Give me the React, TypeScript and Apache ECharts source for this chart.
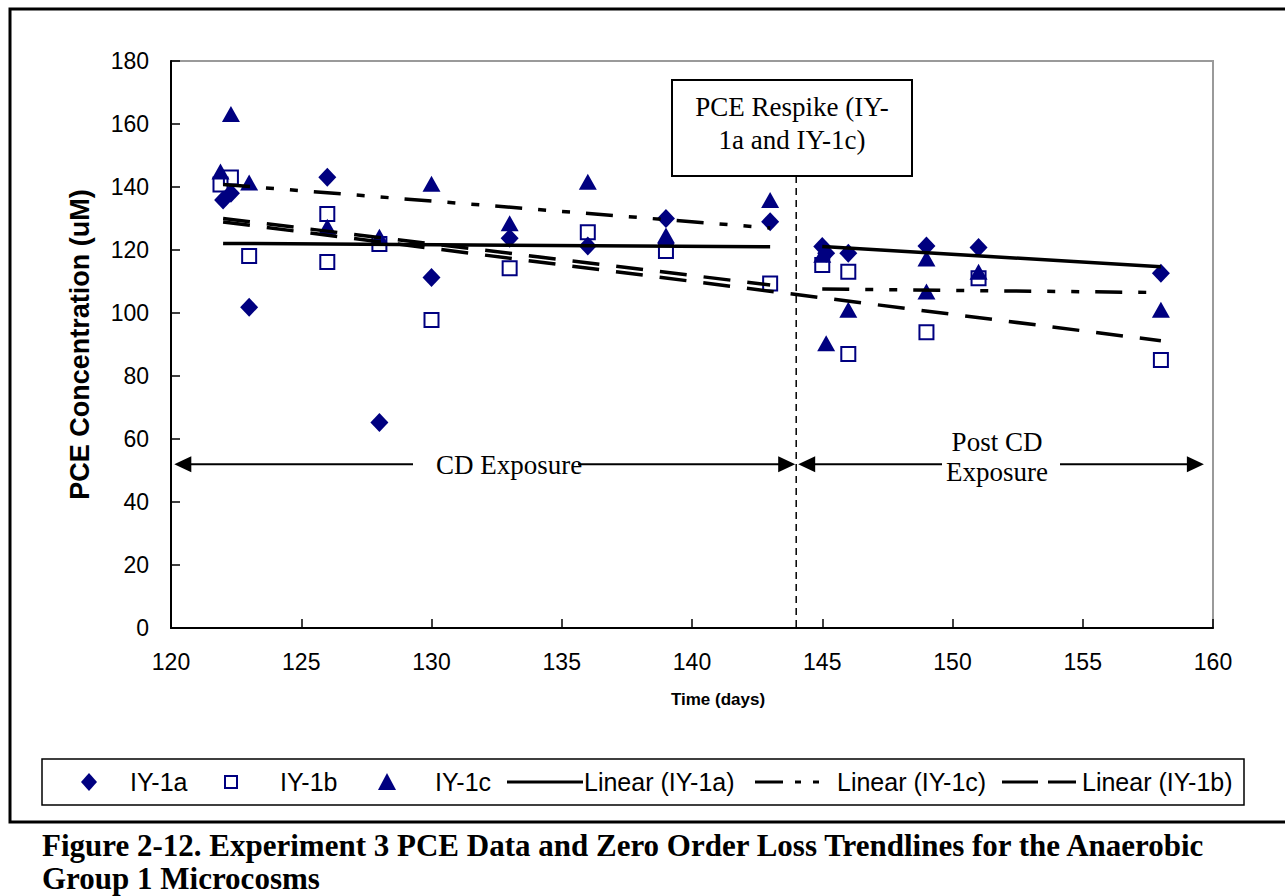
import React, { useEffect, useRef } from "react";
import * as echarts from "echarts";

// ---- Data ----
const iy1a: [number, number][] = [
  [122, 135.9], [122.3, 138], [123, 101.8], [126, 143.1], [128, 65.2], [130, 111.3],
  [133, 123.7], [136, 121.3], [139, 130], [143, 129],
  [145, 121.1], [145.15, 119], [146, 119], [149, 121.3], [151, 120.8], [158, 112.6],
];
const iy1b: [number, number][] = [
  [121.9, 140.8], [122.3, 143], [123, 118.1], [126, 131.4], [126, 116.2], [128, 121.9],
  [130, 97.8], [133, 114.2], [136, 125.6], [139, 119.7], [143, 109.4],
  [145, 115.2], [146, 113.1], [146, 87], [149, 93.9], [151, 111], [158, 85.1],
];
const iy1c: [number, number][] = [
  [121.9, 144.9], [122.3, 163.2], [123, 141.4], [126, 127.4], [128, 124.2], [130, 141],
  [133, 128.5], [136, 141.7], [139, 124.6], [143, 135.9],
  [145, 118.5], [145.15, 90.4], [146, 101], [149, 117.3], [149, 106.8], [151, 113.1], [158, 101],
];

// Trendline endpoints (as drawn in the reference)
const trendA_cd: [number, number][] = [[122, 122.1], [143, 121.0]];
const trendA_post: [number, number][] = [[145, 121.1], [158, 114.7]];
const trendC_cd: [number, number][] = [[122, 140.8], [143, 127.0]];
const trendC_post: [number, number][] = [[145, 107.6], [158, 106.5]];
const trendB_cd: [number, number][] = [[122, 130.0], [143, 108.9]];
const trendB_all: [number, number][] = [[122, 128.9], [158, 91.2]];

const X_MIN = 120, X_MAX = 160, X_STEP = 5;
const Y_MIN = 0, Y_MAX = 180, Y_STEP = 20;
const BOUNDARY_DAY = 144;
const ARROW_LEVEL = 52;
const ARROW_LEFT_DAY = 120.05;
const ARROW_RIGHT_DAY = 159.65;

const legendNames = ["IY-1a", "IY-1b", "IY-1c", "Linear (IY-1a)", "Linear (IY-1c)", "Linear (IY-1b)"];
const captionLines = [
  "Figure 2-12. Experiment 3 PCE Data and Zero Order Loss Trendlines for the Anaerobic",
  "Group 1 Microcosms",
];

const NAVY = "#000080";
const SANS = "'Liberation Sans', Arial, sans-serif";
const SERIF = "'Liberation Serif', 'Times New Roman', serif";

const DASH_C = [27, 16, 8, 16, 8, 16];
const DASH_B = [27, 17];

function trend(name: string, data: [number, number][], type: any) {
  return {
    name,
    type: "line",
    data,
    symbol: "none",
    showSymbol: false,
    silent: true,
    z: 5,
    lineStyle: { color: "#000", width: 3.5, type },
  };
}

export default function App() {
  const ref = useRef<HTMLDivElement>(null);
  useEffect(() => {
    if (!ref.current) return;
    const chart = echarts.init(ref.current, null, { renderer: "svg" });
    chart.setOption({
      animation: false,
      grid: {
        left: 171, top: 61, right: 72, bottom: 268,
        show: true, borderColor: "#9a9a9a", borderWidth: 2, backgroundColor: "transparent",
      },
      xAxis: {
        type: "value", min: X_MIN, max: X_MAX, interval: X_STEP,
        name: "Time (days)", nameLocation: "middle", nameGap: 63,
        nameTextStyle: { fontFamily: SANS, fontSize: 17, fontWeight: "bold", color: "#000", padding: [0, 0, 0, 52] },
        axisLine: { lineStyle: { color: "#000", width: 2 } },
        axisTick: { inside: true, length: 9, lineStyle: { color: "#000", width: 1.5 } },
        axisLabel: { fontFamily: SANS, fontSize: 23, color: "#000", margin: 22 },
        splitLine: { show: false },
      },
      yAxis: {
        type: "value", min: Y_MIN, max: Y_MAX, interval: Y_STEP,
        name: "PCE Concentration (uM)", nameLocation: "middle", nameGap: 78, nameRotate: 90,
        nameTextStyle: { fontFamily: SANS, fontSize: 27, fontWeight: "bold", color: "#000" },
        axisLine: { lineStyle: { color: "#000", width: 2 } },
        axisTick: { inside: true, length: 9, lineStyle: { color: "#000", width: 1.5 } },
        axisLabel: { fontFamily: SANS, fontSize: 23, color: "#000", margin: 22 },
        splitLine: { show: false },
      },
      series: [
        { name: legendNames[0], type: "scatter", data: iy1a, symbol: "diamond", symbolSize: [18, 19], itemStyle: { color: NAVY, opacity: 1 }, z: 3 },
        { name: legendNames[1], type: "scatter", data: iy1b, symbol: "rect", symbolSize: 14, itemStyle: { color: "rgba(0,0,0,0)", borderColor: NAVY, borderWidth: 2, opacity: 1 }, z: 3 },
        { name: legendNames[2], type: "scatter", data: iy1c, symbol: "triangle", symbolSize: [18, 16], itemStyle: { color: NAVY, opacity: 1 }, z: 3 },
        trend(legendNames[3], trendA_cd, "solid"),
        trend(legendNames[3], trendA_post, "solid"),
        trend(legendNames[4], trendC_cd, DASH_C),
        trend(legendNames[4], trendC_post, DASH_C),
        trend(legendNames[5], trendB_cd, DASH_B),
        trend(legendNames[5], trendB_all, DASH_B),
      ],
    });

    const px = (x: number, y: number) => chart.convertToPixel({ gridIndex: 0 }, [x, y]) as number[];
    const [bx, ay] = px(BOUNDARY_DAY, ARROW_LEVEL);
    const [, bottomY] = px(BOUNDARY_DAY, Y_MIN);
    const [lx] = px(ARROW_LEFT_DAY, ARROW_LEVEL);
    const [rx] = px(ARROW_RIGHT_DAY, ARROW_LEVEL);

    const head = (tip: number, y: number, dir: number) => ({
      type: "polygon",
      shape: { points: [[tip, y], [tip - dir * 17, y - 8], [tip - dir * 17, y + 8]] },
      style: { fill: "#000" },
      z: 20,
    });
    const seg = (x1: number, x2: number, y: number) => ({
      type: "line",
      shape: { x1, y1: y, x2, y2: y },
      style: { stroke: "#000", lineWidth: 2 },
      z: 20,
    });
    const txt = (text: string, x: number, y: number, size: number, family: string, align = "center", weight = "normal") => ({
      type: "text",
      x, y,
      style: { text, fill: "#000", font: `${weight} ${size}px ${family}`, align, verticalAlign: "middle" },
      z: 30,
    });

    const legY = 782;
    const LF = 25;
    const graphic: any[] = [
      // outer frame
      { type: "rect", shape: { x: 10, y: 9, width: 1290, height: 813 }, style: { fill: "none", stroke: "#000", lineWidth: 3 }, z: 1, silent: true },
      // boundary dashed line
      { type: "line", shape: { x1: bx, y1: 80, x2: bx, y2: bottomY }, style: { stroke: "#000", lineWidth: 1.5, lineDash: [7, 5] }, z: 15 },
      // annotation box
      { type: "rect", shape: { x: 672, y: 80, width: 240, height: 96 }, style: { fill: "#fff", stroke: "#000", lineWidth: 2 }, z: 25 },
      txt("PCE Respike (IY-", 792, 107, 27, SERIF),
      txt("1a and IY-1c)", 792, 140, 27, SERIF),
      // CD exposure arrow
      head(lx + 2, ay, -1),
      seg(lx + 10, 413, ay),
      txt("CD Exposure", 509, ay + 1, 27, SERIF),
      seg(578, bx - 10, ay),
      head(bx - 1, ay, 1),
      // Post CD arrow
      head(bx + 2, ay, -1),
      seg(bx + 10, 942, ay),
      txt("Post CD", 997, ay - 22, 27, SERIF),
      txt("Exposure", 997, ay + 8, 27, SERIF),
      seg(1060, rx - 10, ay),
      head(rx, ay, 1),
      // legend
      { type: "rect", shape: { x: 42, y: 759, width: 1202, height: 46 }, style: { fill: "#fff", stroke: "#000", lineWidth: 1.5 }, z: 25 },
      { type: "polygon", shape: { points: [[89, legY - 9], [97, legY], [89, legY + 9], [81, legY]] }, style: { fill: NAVY }, z: 30 },
      txt(legendNames[0], 130, legY, LF, SANS, "left"),
      { type: "rect", shape: { x: 225, y: legY - 6, width: 12, height: 12 }, style: { fill: "none", stroke: NAVY, lineWidth: 2 }, z: 30 },
      txt(legendNames[1], 280, legY, LF, SANS, "left"),
      { type: "polygon", shape: { points: [[387, legY - 9], [396, legY + 8], [378, legY + 8]] }, style: { fill: NAVY }, z: 30 },
      txt(legendNames[2], 435, legY, LF, SANS, "left"),
      { type: "line", shape: { x1: 507, y1: legY, x2: 583, y2: legY }, style: { stroke: "#000", lineWidth: 3 }, z: 30 },
      txt(legendNames[3], 584, legY, LF, SANS, "left"),
      { type: "line", shape: { x1: 755, y1: legY, x2: 830, y2: legY }, style: { stroke: "#000", lineWidth: 3, lineDash: [28, 12, 6, 12, 6, 12] }, z: 30 },
      txt(legendNames[4], 837, legY, LF, SANS, "left"),
      { type: "line", shape: { x1: 1002, y1: legY, x2: 1076, y2: legY }, style: { stroke: "#000", lineWidth: 3, lineDash: [36, 10] }, z: 30 },
      txt(legendNames[5], 1082, legY, LF, SANS, "left"),
      // caption
      txt(captionLines[0], 42, 845, 31, SERIF, "left", "bold"),
      txt(captionLines[1], 42, 878, 31, SERIF, "left", "bold"),
    ];
    chart.setOption({ graphic });
    return () => chart.dispose();
  }, []);
  return (
    <div
      ref={ref}
      style={{ position: "absolute", left: 0, top: 0, width: 1285, height: 896, background: "#fff" }}
    />
  );
}
